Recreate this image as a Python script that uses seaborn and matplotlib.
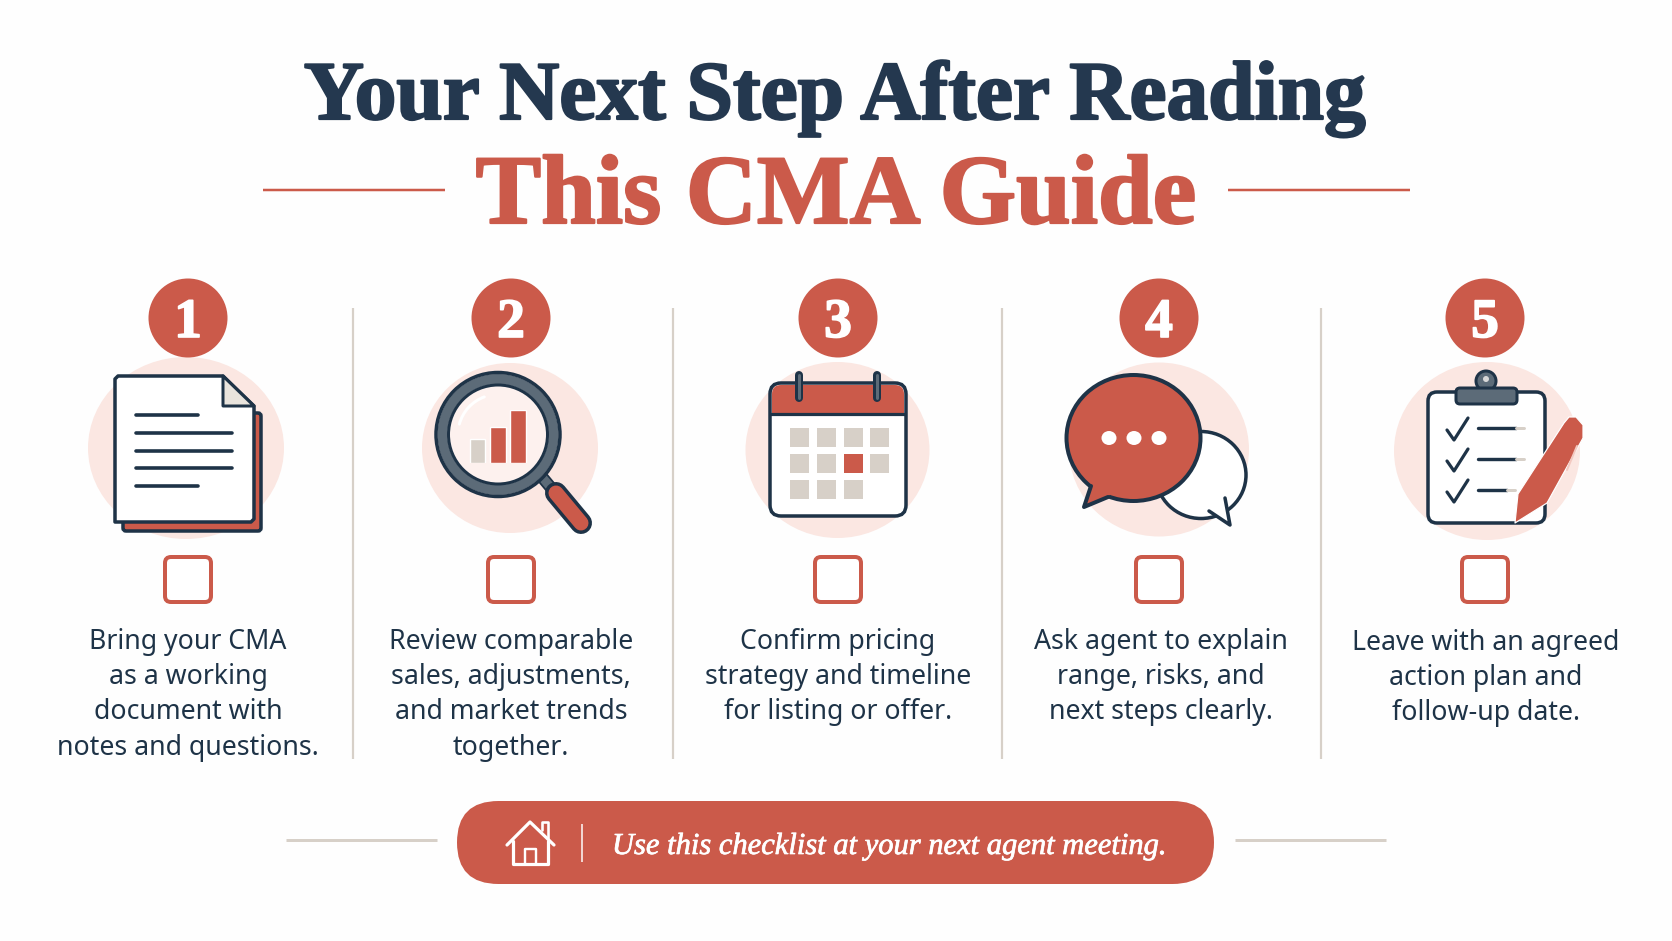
import matplotlib
matplotlib.use("Agg")
import matplotlib.pyplot as plt
from matplotlib.patches import Circle, Ellipse, FancyBboxPatch, Polygon, Rectangle, PathPatch
from matplotlib.path import Path
import matplotlib.patheffects as pe
import seaborn as sns

# ---------- content ----------
title_top = "Your Next Step After Reading"
title_bottom = "This CMA Guide"
step_numbers = ["1", "2", "3", "4", "5"]
step_text = [
    ["Bring your CMA", "as a working", "document with", "notes and questions."],
    ["Review comparable", "sales, adjustments,", "and market trends", "together."],
    ["Confirm pricing", "strategy and timeline", "for listing or offer."],
    ["Ask agent to explain", "range, risks, and", "next steps clearly."],
    ["Leave with an agreed", "action plan and", "follow-up date."],
]
footer_text = "Use this checklist at your next agent meeting."
icon_bar_labels = ["a", "b", "c"]
icon_bar_values = [24, 36, 53]

# ---------- style ----------
RED = "#CB5A4A"
NAVY = "#1E3347"
TITLE = "#24384F"
PINK = "#FBE7E2"
BEIGE = "#D7D0C8"
GREY = "#5C6B78"
BG = "#FEFEFE"
W, H = 1672, 941

sns.set_theme(style="white")
fig = plt.figure(figsize=(W / 100, H / 100), dpi=100, facecolor=BG)
ax = fig.add_axes([0, 0, 1, 1])
ax.set_xlim(0, W)
ax.set_ylim(H, 0)
ax.axis("off")
LW = 0.72  # points per pixel


def line(xs, ys, c=NAVY, px=3, z=5, cap="round"):
    ax.plot(xs, ys, color=c, lw=px * LW, zorder=z, solid_capstyle=cap, solid_joinstyle="round")


def rbox(x0, y0, x1, y1, r, fc, ec="none", px=0, z=3):
    ax.add_patch(FancyBboxPatch((x0, y0), x1 - x0, y1 - y0, boxstyle=f"round,pad=0,rounding_size={r}",
                                fc=fc, ec=ec, lw=px * LW, zorder=z))


def fit(t, width):
    r = fig.canvas.get_renderer()
    t.set_fontsize(t.get_fontsize() * width / t.get_window_extent(r).width)


# ---------- title ----------
t1 = ax.text(835, 119, title_top, ha="center", va="baseline", family="Liberation Serif",
             weight="bold", color=TITLE, fontsize=70,
             path_effects=[pe.withStroke(linewidth=1.6, foreground=TITLE)])
fit(t1, 1063)
t2 = ax.text(836, 223, title_bottom, ha="center", va="baseline", family="Liberation Serif",
             weight="bold", color=RED, fontsize=70,
             path_effects=[pe.withStroke(linewidth=1.6, foreground=RED)])
fit(t2, 721)
line([263, 445], [190, 190], RED, 2.5, cap="butt")
line([1228, 1410], [190, 190], RED, 2.5, cap="butt")

# ---------- columns ----------
col_x = [188, 511, 838, 1159, 1485]
text_x = [188, 511, 838, 1161, 1486]
pink = [(186, 448, 98, 91), (510, 448, 88, 85), (837.5, 450, 92, 88), (1159, 449.5, 90, 87), (1487, 451, 93, 89)]

for x in [353, 673, 1002, 1321]:
    line([x, x], [308, 759], BEIGE, 2.2, z=1, cap="butt")

for i, x in enumerate(col_x):
    ax.add_patch(Ellipse(pink[i][:2], pink[i][2] * 2, pink[i][3] * 2, fc=PINK, ec="none", zorder=1))
    ax.add_patch(Circle((x, 318), 39.5, fc=RED, ec="none", zorder=6))
    ax.text(x, 317, step_numbers[i], ha="center", va="center_baseline", family="Liberation Serif",
            weight="bold", color="white", fontsize=40, zorder=7,
            path_effects=[pe.withStroke(linewidth=1.2, foreground="white")])
    rbox(x - 23, 557, x + 23, 602, 6, "white", RED, 4, z=3)
    y0 = 643 if i == 4 else 642
    for j, s in enumerate(step_text[i]):
        ax.text(text_x[i], y0 + j * 35.2, s, ha="center", va="center", family="Noto Sans",
                color=NAVY, fontsize=19.2, zorder=4)

# ---------- icon 1: document ----------
rbox(123, 413, 261, 531, 3, RED, NAVY, 3.5, z=2)
ax.add_patch(Polygon([(115, 379), (118, 376), (223, 376), (254, 406), (254, 519), (251, 522), (115, 522)],
                     closed=True, fc="white", ec=NAVY, lw=3.5 * LW, zorder=3, joinstyle="round"))
ax.add_patch(Polygon([(223, 376), (254, 406), (223, 406)], closed=True, fc="#E9E4DD", ec=NAVY, lw=3 * LW,
                     zorder=4, joinstyle="round"))
for yy, x1 in zip([415, 433, 451, 468, 486], [198, 232, 232, 232, 198]):
    line([136, x1], [yy, yy], NAVY, 3.6)

# ---------- icon 2: magnifier ----------
line([542, 552], [477, 489], GREY, 9, z=2, cap="butt")
line([542, 552], [477, 489], NAVY, 12.5, z=1.9, cap="butt")
line([556, 581], [493, 523], NAVY, 22, z=3)
line([556, 581], [493, 523], RED, 15, z=4)
ax.add_patch(Circle((498, 434.5), 62, fc="none", ec=NAVY, lw=3.5 * LW, zorder=5))
ax.add_patch(Circle((498, 434.5), 55.5, fc="#FDF1EE", ec=GREY, lw=10 * LW, zorder=3))
ax.add_patch(Circle((498, 434.5), 49.5, fc="none", ec=NAVY, lw=3 * LW, zorder=5))
theta = Path.arc(195, 250)
ax.add_patch(PathPatch(Path(theta.vertices * [40, -40] * [1, -1] + [498, 434.5], theta.codes), fc="none", ec="white",
                       lw=3 * LW, zorder=5, capstyle="round"))
# the small bars inside the lens are a real seaborn bar chart
bar_ax = fig.add_axes([467.4 / W, 1 - 463 / H, 60.8 / W, 53 / H])
sns.barplot(x=icon_bar_labels, y=icon_bar_values, hue=icon_bar_labels, palette=[BEIGE, RED, RED],
            legend=False, width=0.76, saturation=1, ax=bar_ax)
bar_ax.set_xlim(-0.5, 2.5)
bar_ax.set_ylim(0, max(icon_bar_values))
bar_ax.axis("off")
bar_ax.patch.set_alpha(0)

# ---------- icon 3: calendar ----------
rbox(770, 383, 906, 516, 11, "white", NAVY, 3.5, z=3)
ax.add_patch(PathPatch(Path([(772, 413), (772, 394), (772, 385), (781, 385), (895, 385), (904, 385), (904, 394), (904, 413), (772, 413)],
                            [1, 2, 3, 3, 2, 3, 3, 2, 79]), fc=RED, ec="none", zorder=4))
line([770, 906], [414, 414], NAVY, 3.2, z=5, cap="butt")
for xr in [799, 877]:
    line([xr, xr], [375, 398], NAVY, 8, z=5)
    line([xr, xr], [375, 398], GREY, 3, z=6)
cal_cols = [790, 817, 844, 870]
for r, yy in enumerate([428, 454, 480]):
    for c, xx in enumerate(cal_cols):
        if r == 2 and c == 3:
            continue
        ax.add_patch(Rectangle((xx, yy), 18.5, 18.5, fc=RED if (r == 1 and c == 2) else BEIGE, ec="none", zorder=4))

# ---------- icon 4: chat bubbles ----------
ax.add_patch(Ellipse((1201, 475), 90, 87, fc="white", ec=NAVY, lw=3.5 * LW, zorder=2))
ax.add_patch(Polygon([(1212, 512), (1230, 525), (1226, 492)], closed=True, fc="white", ec="none", zorder=2.5))
line([1209, 1230, 1225], [511, 525, 498], NAVY, 3.5, z=2.6)
ax.add_patch(Ellipse((1133.5, 438), 134, 126, fc=RED, ec=NAVY, lw=4 * LW, zorder=3))
ax.add_patch(Polygon([(1091, 484), (1084, 507), (1112, 494)], closed=True, fc=RED, ec="none", zorder=3.5))
line([1091, 1084, 1108], [486, 507, 497], NAVY, 4, z=3.6)
for dx in [1109, 1134, 1159]:
    ax.add_patch(Ellipse((dx, 438), 15, 14, fc="white", ec="none", zorder=5))

# ---------- icon 5: clipboard ----------
rbox(1428, 392, 1545, 523, 9, "white", NAVY, 3.5, z=2)
ax.add_patch(Circle((1486, 381), 10, fc=GREY, ec=NAVY, lw=3 * LW, zorder=4))
ax.add_patch(Circle((1486, 379), 3, fc="#D8D8D8", ec="none", zorder=6))
rbox(1456, 388, 1517, 404, 4, GREY, NAVY, 3, z=5)
for yy, xe in zip([430, 461, 492], [1524, 1524, 1515]):
    line([1447, 1454, 1468], [yy, yy + 10, yy - 12], NAVY, 3.2)
    line([1478, xe - 8], [yy - 2, yy - 2], NAVY, 3.4)
    line([xe - 8, xe], [yy - 2, yy - 2], BEIGE, 3)
ax.add_patch(Polygon([(1515, 523), (1518, 494), (1564, 423), (1569, 417), (1576, 417), (1583, 425), (1583, 438), (1547, 503)],
                     closed=True, fc=RED, ec="white", lw=1.2 * LW, zorder=6, joinstyle="round"))
line([1577, 1567], [446, 470], "#F3C9C1", 2, z=7)

# ---------- footer ----------
line([286, 437], [840, 840], BEIGE, 3, cap="butt")
line([1235, 1386], [840, 840], BEIGE, 3, cap="butt")
rbox(457, 801, 1214, 884, 41.5, RED, z=3)
line([507, 530, 554], [845, 822, 845], "white", 3.2, z=5)
line([542, 542, 548, 548], [830, 822, 822, 838], "white", 2.6, z=5)
line([513, 513, 548, 548], [841, 864, 864, 841], "white", 3.2, z=5)
line([525, 525, 536, 536], [864, 849, 849, 864], "white", 2.4, z=5)
line([582, 582], [824, 862], "white", 1.5, z=5, cap="butt")
t3 = ax.text(612, 854, footer_text, ha="left", va="baseline", family="Liberation Serif", style="italic",
             color="white", fontsize=30, zorder=5,
             path_effects=[pe.withStroke(linewidth=0.5, foreground="white")])
fit(t3, 555)

fig.savefig("out.png", dpi=100, facecolor=BG)
